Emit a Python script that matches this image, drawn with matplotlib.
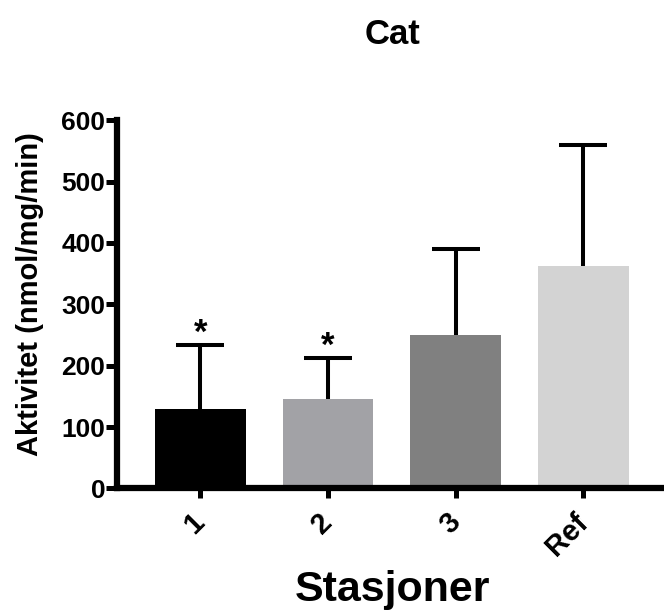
import matplotlib
matplotlib.use("Agg")
import matplotlib.pyplot as plt

categories = ["1", "2", "3", "Ref"]
means = [129, 146, 250, 363]
sd_upper = [104, 66, 140, 197]
colors = ["#000000", "#A2A2A6", "#808080", "#D3D3D3"]
significance = ["*", "*", "", ""]

plt.rcParams['font.family'] = ['Liberation Sans', 'DejaVu Sans']
plt.rcParams['font.weight'] = 'bold'

fig = plt.figure(figsize=(6.64, 6.15), dpi=100)
ax = fig.add_axes([0.1755, 0.2057, 0.83, 0.599])

x = list(range(len(categories)))
tops = [m + s for m, s in zip(means, sd_upper)]
ax.bar(x, means, width=0.71, color=colors, zorder=2)
ax.vlines(x, means, tops, colors='black', linewidth=2.9, zorder=3)
ax.plot(x, tops, linestyle='none', marker='_', markersize=34, markeredgewidth=2.9,
        color='black', zorder=3)
for xi, t, sig in zip(x, tops, significance):
    if sig:
        ax.text(xi, t + 4, sig, ha='center', va='baseline', fontsize=25, fontweight='bold')

ax.set_xlim(-0.656, 3.66)
ax.set_ylim(0, 600)
ax.set_yticks([0, 100, 200, 300, 400, 500, 600])
ax.set_xticks(x)
ax.set_xticklabels(categories, rotation=45, ha='right', va='center', rotation_mode='anchor')

for side in ['top', 'right']:
    ax.spines[side].set_visible(False)
for side in ['left', 'bottom']:
    ax.spines[side].set_linewidth(4.5)
ax.tick_params(axis='y', direction='out', labelsize=19, width=3.6, length=8, pad=0)
ax.tick_params(axis='x', direction='out', labelsize=21, width=3.6, length=7, pad=14)
for lbl in ax.get_xticklabels() + ax.get_yticklabels():
    lbl.set_fontweight('bold')

ax.set_ylabel("Aktivitet (nmol/mg/min)", fontsize=21, fontweight='bold')
ax.yaxis.set_label_coords(-0.131, 0.529)
ax.set_xlabel("Stasjoner", fontsize=31, fontweight='bold')
ax.xaxis.set_label_coords(0.501, -0.222)
ax.set_title("Cat", fontsize=25, fontweight='bold', pad=55)

fig.savefig("out.png", dpi=100)
